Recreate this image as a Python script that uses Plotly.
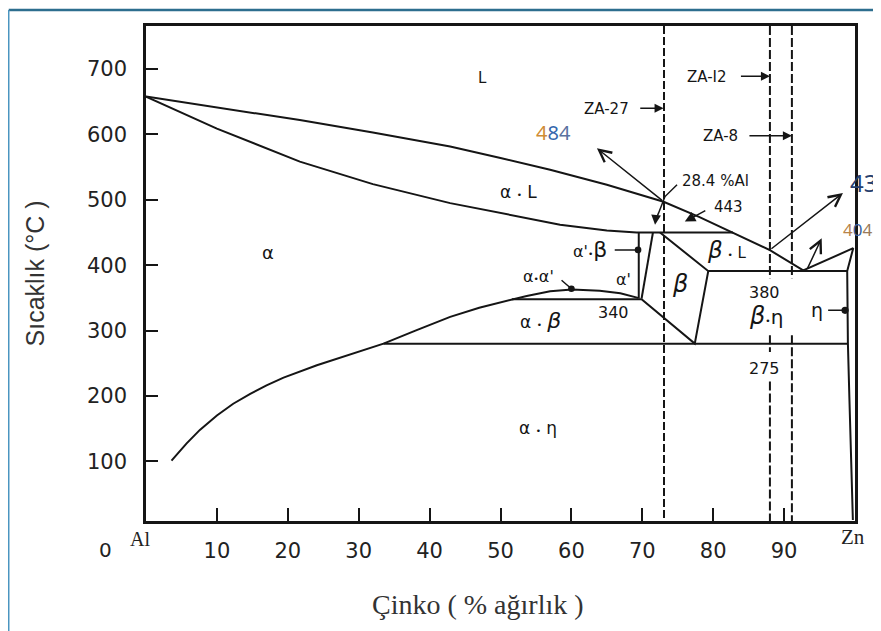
import plotly.graph_objects as go

# ---------------- data (wt.% Zn, temperature °C) ----------------
x_ticks = [10, 20, 30, 40, 50, 60, 70, 80, 90]
y_ticks = [100, 200, 300, 400, 500, 600, 700]

# liquidus (Al side -> eutectic -> Zn) and eta solidus / solvus
liq_x = [0, 10, 21.7, 32, 42.9, 50, 57, 65, 73, 78, 82.8, 88, 92.7, 99.75, 98.9, 99.0, 99.2, 99.5, 99.7]
liq_T = [658, 641, 622, 603, 581.5, 564, 546, 523, 497, 474, 450, 423, 392, 426, 391, 280, 200, 100, 10]

# alpha solidus + 443 peritectic line
sol_x = [0, 10, 21.7, 32, 42.9, 50, 58.4, 65, 69.2, 82.8]
sol_T = [658, 609, 558.5, 524, 495, 480, 462, 453, 450, 450]

# alpha solvus -> alpha+beta boundary -> miscibility dome
solv_x = [3.6, 5.7, 7.6, 10.0, 12.3, 14.7, 17.0, 19.4, 24.1, 28, 31.1, 33.5, 38, 42.9, 47, 51.6,
          53.7, 57, 60.1, 64, 66.9, 69.4]
solv_T = [101, 127, 148, 170, 188, 203, 216, 228, 247, 261, 271, 280, 300, 321, 335, 348,
          353, 360, 363, 361, 357, 350]

# 340 monotectoid line and beta field outline
beta_x = [51.6, 69.9, 77.4, 79.3, 72.5]
beta_T = [348, 348, 280, 391, 450]

# alpha' field
ap1_x = [69.5, 69.5]
ap1_T = [450, 349]
ap2_x = [71.5, 69.9]
ap2_T = [450, 349]

# 380 eutectic and 275 eutectoid lines
eut_x = [79.3, 98.9]
eut_T = [391, 391]
eud_x = [33.5, 99.0]
eud_T = [280, 280]

# alloy composition lines (dashed)
za27_x = [73.06, 73.06]
za27_T = [766, 8.6]
za12_x = [88.0, 88.0, None, 88.0, 88.0, None, 88.0, 88.0]
za12_T = [766, 380, None, 293, 267, None, 222, 8.6]
za8_x = [91.1, 91.1, None, 91.1, 91.1]
za8_T = [766, 380, None, 293, 8.6]

# curved leader for "28.4 % Al"
lead_x = [74.9, 73.2, 72.3, 71.9]
lead_T = [523, 505, 480, 470]

BLK = "#151515"
fig = go.Figure()

def line(x, y, w=2.0, dash=None):
    fig.add_trace(go.Scatter(x=x, y=y, mode="lines", hoverinfo="skip",
                             line=dict(color=BLK, width=w, dash=dash)))

line(liq_x, liq_T)
line(sol_x, sol_T)
line(solv_x, solv_T)
line(beta_x, beta_T)
line(ap1_x, ap1_T)
line(ap2_x, ap2_T)
line(eut_x, eut_T)
line(eud_x, eud_T)
line(za27_x, za27_T, 2, "8px,3px")
line(za12_x, za12_T, 2, "9px,3px")
line(za8_x, za8_T, 2, "9px,3px")
line(lead_x, lead_T, 1.5)

ann = []
LF = "DejaVu Sans"

def lab(x, y, text, size=14, font=LF, color=BLK, xref="x", yref="y", xanchor="center", angle=0):
    ann.append(dict(x=x, y=y, xref=xref, yref=yref, text=text, showarrow=False,
                    font=dict(family=font, size=size, color=color),
                    xanchor=xanchor, yanchor="middle", textangle=angle))

def arr(xt, yt, xh, yh, head=2, size=1.3, width=1.5):
    ann.append(dict(x=xh, y=yh, ax=xt, ay=yt, xref="x", yref="y", axref="x", ayref="y",
                    text="", showarrow=True, arrowhead=head, arrowsize=size,
                    arrowwidth=width, arrowcolor=BLK, standoff=0, startstandoff=0))

dot = "<span style='font-size:9px'>•</span>"
lab(47.5, 686.5, "L", 15)
lab(64.9, 639.2, "ZA-27", 15)
lab(79.1, 688, "ZA-I2", 15)
lab(81.0, 597.8, "ZA-8", 15)
arr(69.5, 640, 73.0, 640, 2, 1.2)
arr(83.7, 689, 88.0, 689, 2, 1.2)
arr(84.9, 598, 91.1, 598, 2, 1.2)

lab(57.5, 603, "<span style='color:#cf8c35'>4</span><span style='color:#3567ad'>8</span>"
               "<span style='color:#5a72a0'>4</span>", 20, "Noto Sans")
arr(73.0, 497.3, 63.6, 579, 5, 1.6)
lab(80.3, 529, "28.4 %Al", 15)
arr(71.9, 472, 71.8, 462, 2, 1.3)
lab(82.1, 489, "443", 15)
arr(79.1, 484.6, 76.0, 466.7, 2, 1.4)

lab(52.5, 512, "α " + dot + " L", 17)
lab(17.2, 418.8, "α", 18)
lab(62.6, 423.4, "α'" + dot + "<span style='font-size:22px'>β</span>", 16)
arr(65.9, 423.4, 69.4, 423.4, 6, 1.1)
lab(55.3, 382, "α" + dot + "α'", 16)
arr(58.4, 379, 60.0, 364, 6, 1.1)
lab(67.3, 377.5, "α'", 16)
lab(75.3, 371, "<i>β</i>", 24)
lab(81.9, 423.4, "<i><span style='font-size:23px'>β</span></i> " + dot + " L", 15)
lab(66.0, 327, "340", 16)
lab(55.7, 314.7, "α " + dot + " <i><span style='font-size:22px'>β</span></i>", 17)
lab(87.2, 359, "380", 16)
lab(87.4, 322.3, "<i><span style='font-size:24px'>β</span></i>" + dot + "η", 20)
lab(94.6, 331, "η", 19)
arr(96.0, 331, 98.6, 331, 6, 1.2)
lab(87.2, 242.6, "275", 16)
lab(55.3, 150.8, "α " + dot + " η", 17)

arr(88.0, 423.4, 98.3, 510.6, 5, 1.6)
arr(93.2, 392.8, 95.3, 441.3, 5, 1.6)
lab(1.0338, 0.683, "43", 24, "Noto Sans", "#27406e", "paper", "paper", "right")
lab(1.003, 0.588, "<span style='color:#b8844a'>4</span><span style='color:#3a5fa0'>0</span>"
                  "<span style='color:#9a7a5a'>4</span>", 17, "Noto Sans", BLK, "paper", "paper")

# axis end labels and titles
lab(-0.0578, -0.0586, "0", 20, LF, "#222", "paper", "paper")
lab(-0.0085, -0.0364, "Al", 20, "Liberation Serif", "#222", "paper", "paper")
lab(0.997, -0.0323, "Zn", 21, "Liberation Serif", "#222", "paper", "paper")
lab(0.468, -0.1677, "Çinko ( % ağırlık )", 28, "Liberation Serif", "#333", "paper", "paper")
lab(-0.1566, 0.5, "Sıcaklık (°C )", 25, "Liberation Sans", "#333", "paper", "paper", "center", -90)

# the page adds an 8 px body margin, so the figure is 8 px smaller and margins shifted
fig.update_layout(
    width=873, height=623,
    margin=dict(l=138, r=26, t=18, b=110),
    paper_bgcolor="white", plot_bgcolor="white",
    showlegend=False,
    annotations=ann,
    shapes=[
        dict(type="line", xref="paper", yref="paper", x0=-0.1936, x1=1.04, y0=1.0323, y1=1.0323,
             line=dict(color="#2d6e8e", width=2.5)),
        dict(type="line", xref="paper", yref="paper", x0=-0.1936, x1=-0.1936, y0=1.0323, y1=-0.23,
             line=dict(color="#4b95c0", width=1.5)),
    ],
    xaxis=dict(range=[0, 100], showline=True, mirror=True, linecolor=BLK, linewidth=2.5,
               ticks="inside", ticklen=13, tickwidth=2, tickcolor=BLK,
               tickvals=x_ticks, ticktext=[str(v) for v in x_ticks],
               tickfont=dict(family=LF, size=21, color="#222"),
               showgrid=False, zeroline=False, ticklabelstandoff=9),
    yaxis=dict(range=[8.6, 766], showline=True, mirror=True, linecolor=BLK, linewidth=2.5,
               ticks="inside", ticklen=12, tickwidth=2, tickcolor=BLK,
               tickvals=y_ticks, ticktext=[str(v) for v in y_ticks],
               tickfont=dict(family=LF, size=21, color="#222"),
               showgrid=False, zeroline=False, ticklabelstandoff=12),
)

fig.write_html("out.html")
